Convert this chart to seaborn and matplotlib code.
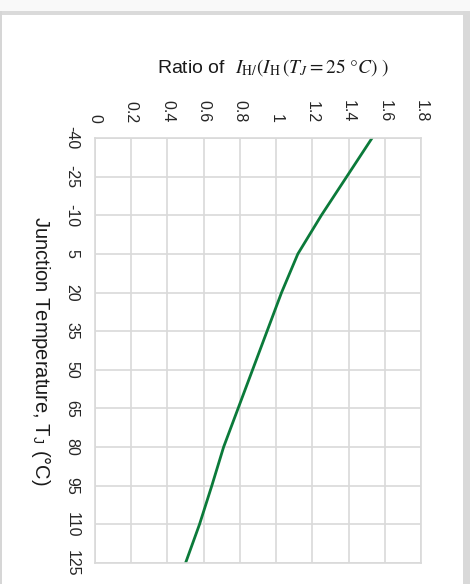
import matplotlib
matplotlib.use('Agg')
import matplotlib.pyplot as plt
from matplotlib.patches import Rectangle
import seaborn as sns
import numpy as np

# junction temperature (deg C) and hold current ratio
temps = [-40, -25, -10, 5, 20, 35, 50, 65, 80, 95, 110, 125]
ratio = [1.53, 1.39, 1.25, 1.12, 1.03, 0.95, 0.87, 0.79, 0.71, 0.645, 0.577, 0.50]
ratio_ticks = [0, 0.2, 0.4, 0.6, 0.8, 1.0, 1.2, 1.4, 1.6, 1.8]
ratio_labels = ['0', '0.2', '0.4', '0.6', '0.8', '1', '1.2', '1.4', '1.6', '1.8']
temp_labels = [str(t) for t in temps]

sns.set_theme(style='whitegrid', rc={
    'grid.color': '#d9d9d9',
    'grid.linewidth': 1.2,
    'axes.edgecolor': '#d9d9d9',
    'axes.linewidth': 1.2,
})
plt.rcParams['font.family'] = ['Liberation Sans', 'DejaVu Sans']
plt.rcParams['mathtext.fontset'] = 'stix'

fig = plt.figure(figsize=(4.7, 5.84), dpi=100)
ax = fig.add_axes([95 / 470, 21 / 584, 326 / 470, 425 / 584])

sns.lineplot(x=ratio, y=temps, orient='y', color='#0b7a3a', linewidth=2.0, ax=ax)

ax.set_xlim(0, 1.8)
ax.set_ylim(125, -40)
ax.xaxis.tick_top()
ax.set_xticks(ratio_ticks)
ax.set_xticklabels(ratio_labels, rotation=-90, fontsize=11.5, color='#262626')
ax.set_yticks(temps)
ax.set_yticklabels(temp_labels, rotation=-90, va='center', fontsize=11.5, color='#262626')
ax.tick_params(axis='x', length=0, pad=11)
ax.tick_params(axis='y', length=0, pad=11)

ax.set_xlabel('')
ax.set_ylabel(r'Junction Temperature, T$_\mathregular{J}$ (°C)', rotation=-90,
              fontsize=14.5, color='#1a1a1a', ha='center', va='center', rotation_mode='anchor')
ax.yaxis.set_label_coords(-0.165, 0.5)

fig.text(273 / 470, 1 - 68 / 584,
         r'Ratio of  $I_{\mathrm{H}/}(I_{\mathrm{H}}\,(T_J = 25\ °C)\ )$',
         ha='center', va='center', fontsize=14, color='#1a1a1a')

# frame around the figure, like the screenshot
fig.add_artist(Rectangle((0, 1 - 15 / 584), 1, 15 / 584, transform=fig.transFigure,
                         facecolor='#f9f9f9', edgecolor='none'))
fig.add_artist(Rectangle((0, 1 - 15 / 584), 1, 4 / 584, transform=fig.transFigure,
                         facecolor='#dadada', edgecolor='none'))
fig.add_artist(Rectangle((0, 0), 2 / 470, 1 - 11 / 584, transform=fig.transFigure,
                         facecolor='#d6d6d6', edgecolor='none'))
fig.add_artist(Rectangle((463 / 470, 0), 7 / 470, 1 - 11 / 584, transform=fig.transFigure,
                         facecolor='#d9d9d9', edgecolor='none'))

fig.savefig('out.png', dpi=100)
plt.close(fig)
